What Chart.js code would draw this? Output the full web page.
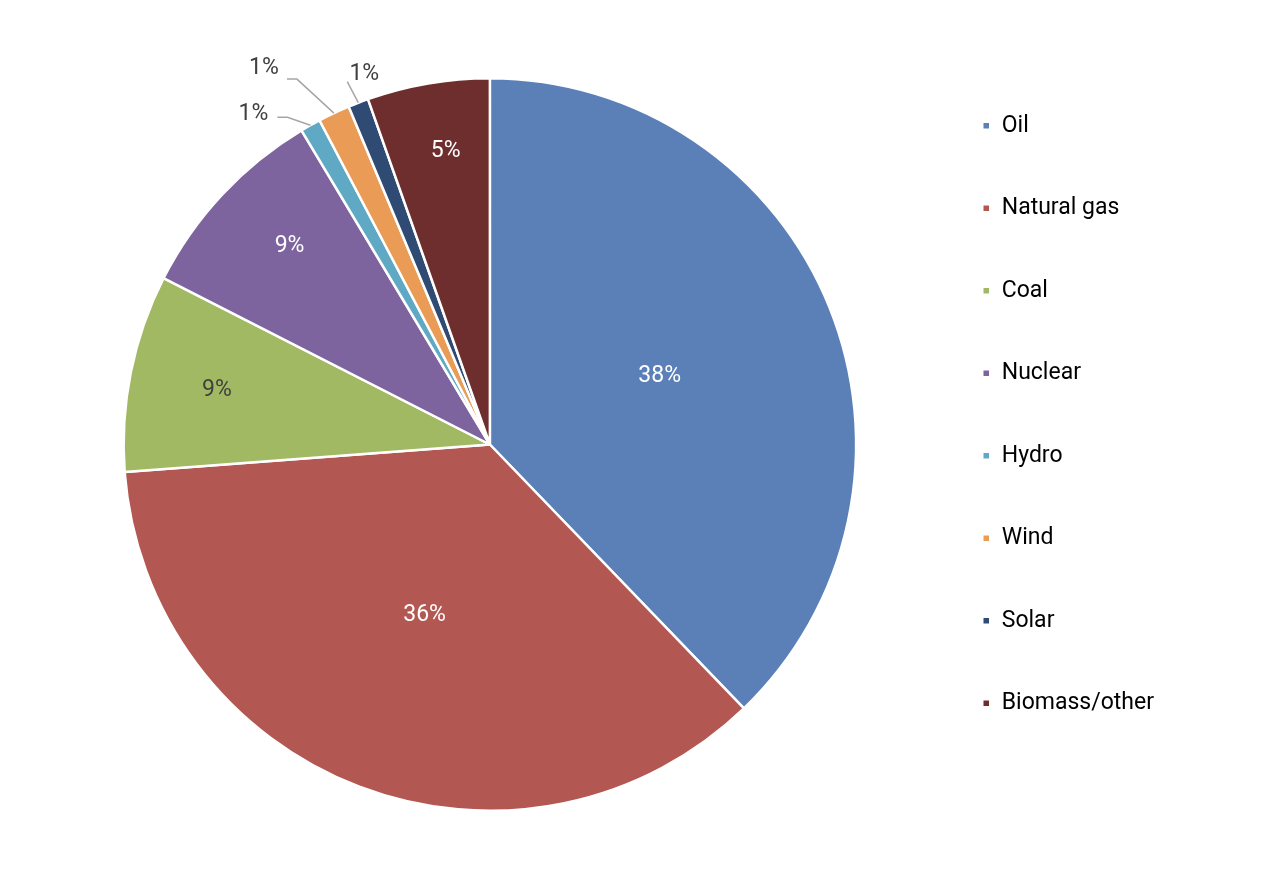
<!DOCTYPE html>
<html>
<head>
<meta charset="utf-8">
<script src="https://cdn.jsdelivr.net/npm/chart.js@4.4.0/dist/chart.umd.min.js"></script>
<style>
  html, body { margin: 0; padding: 0; background: #fff; }
  #wrap { width: 1262px; height: 890px; }
</style>
</head>
<body>
<div id="wrap"><canvas id="pie"></canvas></div>
<script>
// energy mix shares, %
const sources = ['Oil', 'Natural gas', 'Coal', 'Nuclear', 'Hydro', 'Wind', 'Solar', 'Biomass/other'];
const shares = [37.8, 36.0, 8.7, 8.9, 0.9, 1.4, 0.9, 5.4];
const colors = ['#5A80B7', '#B35752', '#A2B964', '#7D649F', '#5FA9C5', '#EA9C56', '#2F4B73', '#6E2E2E'];

// label styling per slice: inside (radius fraction) or outside with leader line
const labelStyle = [
    { r: 0.5, color: '#ffffff' },
    { r: 0.5, color: '#ffffff' },
    { r: 0.76, color: '#404040' },
    { r: 0.77, color: '#ffffff', turn: 0.03 },
    { out: true, elbow: [-23, -8], end: [-33, -8], text: [-57, -11] },
    { out: true, elbow: [-37, -34], end: [-47, -34], text: [-70, -45] },
    { out: true, elbow: null, end: [-11, -21], text: [6, -28] },
    { r: 0.81, color: '#ffffff', turn: 0.02 }
];

const sliceLabels = {
    id: 'sliceLabels',
    afterDatasetsDraw(chart) {
        const ctx = chart.ctx;
        const meta = chart.getDatasetMeta(0);
        ctx.save();
        ctx.font = '23px Roboto';
        ctx.textAlign = 'center';
        ctx.textBaseline = 'middle';
        meta.data.forEach((arc, i) => {
            const p = arc.getProps(['x', 'y', 'startAngle', 'endAngle', 'outerRadius']);
            const st = labelStyle[i];
            const a = (p.startAngle + p.endAngle) / 2 + (st.turn || 0);
            const txt = Math.round(shares[i]) + '%';
            if (!st.out) {
                ctx.fillStyle = st.color;
                ctx.fillText(txt, p.x + Math.cos(a) * p.outerRadius * st.r, p.y + Math.sin(a) * p.outerRadius * st.r);
                return;
            }
            const ox = p.x + Math.cos(a) * p.outerRadius;
            const oy = p.y + Math.sin(a) * p.outerRadius;
            ctx.strokeStyle = '#A6A6A6';
            ctx.lineWidth = 1.5;
            ctx.beginPath();
            ctx.moveTo(ox, oy);
            if (st.elbow) ctx.lineTo(ox + st.elbow[0], oy + st.elbow[1]);
            ctx.lineTo(ox + st.end[0], oy + st.end[1]);
            ctx.stroke();
            ctx.fillStyle = '#404040';
            ctx.fillText(txt, ox + st.text[0], oy + st.text[1]);
        });
        ctx.restore();
    }
};

// legend sits a bit above the pie's middle in the original
const legendNudge = {
    id: 'legendNudge',
    afterLayout(chart) {
        chart.legend.top -= 30;
        chart.legend.bottom -= 30;
    }
};

const ctx = document.getElementById('pie').getContext('2d');
const chart = new Chart(ctx, {
    type: 'pie',
    data: {
        labels: sources,
        datasets: [{
            data: shares,
            backgroundColor: colors,
            borderColor: '#ffffff',
            borderWidth: 2.5
        }]
    },
    options: {
        responsive: true,
        maintainAspectRatio: false,
        animation: false,
        layout: { padding: { top: 77, bottom: 78, left: 57, right: 98 } },
        plugins: {
            tooltip: { enabled: false },
            legend: {
                position: 'right',
                align: 'center',
                labels: {
                    boxWidth: 8,
                    boxHeight: 8,
                    padding: 59.5,
                    color: '#000000',
                    font: { family: 'Roboto', size: 23 }
                }
            }
        }
    },
    plugins: [sliceLabels, legendNudge]
});
</script>
</body>
</html>
